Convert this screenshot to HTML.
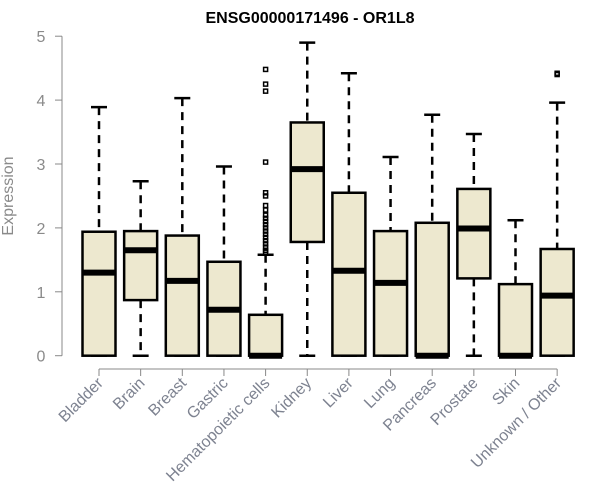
<!DOCTYPE html>
<html><head><meta charset="utf-8"><style>
body{margin:0;background:#fff;}
svg{display:block;font-family:"Liberation Sans",Arial,sans-serif;}
</style></head><body>
<svg id="chart" width="600" height="500" xmlns="http://www.w3.org/2000/svg">
<text x="310" y="23" text-anchor="middle" font-size="16" font-weight="bold" fill="#000">ENSG00000171496 - OR1L8</text>
<text transform="translate(13,196) rotate(-90)" text-anchor="middle" font-size="16" fill="#8a8a8a">Expression</text>
<g id="axes"></g>
<g id="boxes"></g>
</svg>
<script>
const categories=["Bladder","Brain","Breast","Gastric","Hematopoietic cells","Kidney","Liver","Lung","Pancreas","Prostate","Skin","Unknown / Other"];
const lowerWhisker=[0,0,0,0,0,0,0,0,0,0,0,0];
const q1Values=[0,0.87,0,0,0,1.78,0,0,0,1.21,0,0];
const medians=[1.30,1.65,1.17,0.72,0,2.92,1.33,1.14,0,1.99,0,0.94];
const q3Values=[1.94,1.95,1.88,1.47,0.64,3.65,2.55,1.95,2.08,2.61,1.12,1.67];
const upperWhisker=[3.89,2.73,4.03,2.96,1.58,4.90,4.42,3.11,3.77,3.47,2.12,3.96];
const outliers=[[],[],[],[],[4.48,4.25,4.14,3.03,2.55,2.5,2.35,2.28,2.2,2.15,2.1,2.05,2.0,1.95,1.9,1.85,1.8,1.75,1.7,1.65,1.62],[],[],[],[],[],[],[4.42,4.40]];
const yTicks=[0,1,2,3,4,5];
const NS="http://www.w3.org/2000/svg";
const yScale=v=>355.7-v*63.9;
const xScale=i=>99+i*41.65;
const mk=(t,a,p)=>{const e=document.createElementNS(NS,t);for(const k in a)e.setAttribute(k,a[k]);p.appendChild(e);return e;};
const ax=document.getElementById('axes'), bx=document.getElementById('boxes');
const yl=mk('line',{x1:62,x2:62,y1:yScale(5),y2:yScale(0),stroke:'#888','stroke-width':1},ax);


yTicks.forEach(t=>{
 const l=mk('line',{x1:55,x2:62,y1:yScale(t),y2:yScale(t),stroke:'#888'},ax);
 
 
 const tx=mk('text',{x:41,y:yScale(t)+6,'text-anchor':'middle','font-size':16,fill:'#8a8a8a'},ax);
 tx.textContent=t;
 
 
});
const xl=mk('line',{x1:xScale(0),x2:xScale(categories.length-1),y1:369,y2:369,stroke:'#888'},ax);


categories.forEach((c,i)=>{
 const x=xScale(i);
 const l=mk('line',{x1:x,x2:x,y1:369,y2:376,stroke:'#888'},ax);
 
 
 const tx=mk('text',{transform:`translate(${x+5},${384}) rotate(-45)`,'text-anchor':'end','font-size':16,fill:'#7d8290'},ax);
 tx.textContent=c;
 
 
 const g=mk('g',{},bx);
 
 
 const hw=16.5;
 mk('line',{x1:x,x2:x,y1:yScale(upperWhisker[i]),y2:yScale(q3Values[i]),stroke:'#000','stroke-width':2.5,'stroke-dasharray':'8,6'},g);
 mk('line',{x1:x,x2:x,y1:yScale(q1Values[i]),y2:yScale(lowerWhisker[i]),stroke:'#000','stroke-width':2.5,'stroke-dasharray':'8,6'},g);
 mk('line',{x1:x-8,x2:x+8,y1:yScale(upperWhisker[i]),y2:yScale(upperWhisker[i]),stroke:'#000','stroke-width':2.5},g);
 mk('line',{x1:x-8,x2:x+8,y1:yScale(lowerWhisker[i]),y2:yScale(lowerWhisker[i]),stroke:'#000','stroke-width':2.5},g);
 mk('rect',{x:x-hw,y:yScale(q3Values[i]),width:hw*2,height:yScale(q1Values[i])-yScale(q3Values[i]),fill:'#ede8cf',stroke:'#000','stroke-width':2.5},g);
 mk('line',{x1:x-hw,x2:x+hw,y1:yScale(medians[i]),y2:yScale(medians[i]),stroke:'#000','stroke-width':6},g);
 outliers[i].forEach(v=>{
  const o=mk('rect',{x:x-2,y:yScale(v)-2,width:4,height:4,fill:'none',stroke:'#000','stroke-width':1.5},g);
  
  
 });
});
</script>
</body></html>
